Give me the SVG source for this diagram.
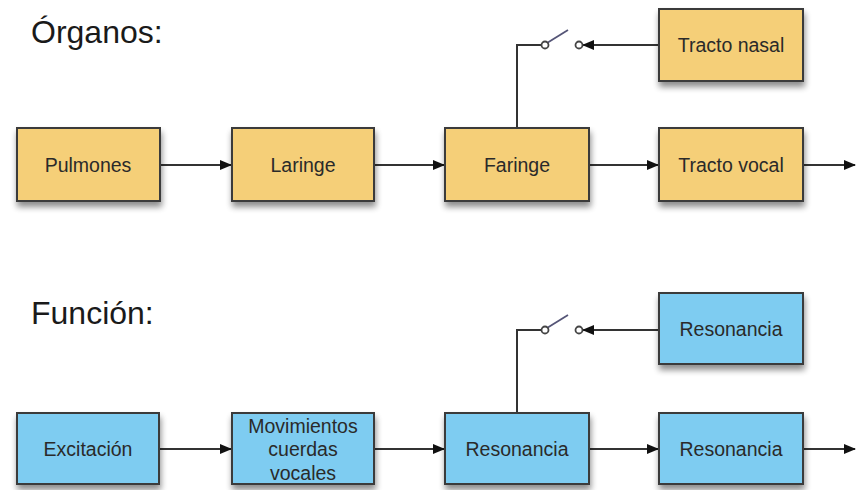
<svg xmlns="http://www.w3.org/2000/svg" width="856" height="490" viewBox="0 0 856 490">
<style>
.title{font-family:"Liberation Sans",Arial,sans-serif;font-size:32px;fill:#1a1a1a}
.lbl{font-family:"Liberation Sans",Arial,sans-serif;font-size:19.5px;fill:#2a2a2a;text-anchor:middle}
.y{fill:#F5CF78;stroke:#3a3a3a;stroke-width:2;filter:url(#sh)}
.b{fill:#7ECCF1;stroke:#3a3a3a;stroke-width:2;filter:url(#sh)}
.c{stroke:#333;stroke-width:2;fill:none}
.sw{fill:#fff;stroke:#444;stroke-width:1.8}
.lev{stroke:#555577;stroke-width:1.8}
</style>
<defs>
<filter id="sh" x="-20%" y="-20%" width="150%" height="160%">
<feGaussianBlur in="SourceAlpha" stdDeviation="3"/>
<feOffset dx="1" dy="5" result="o"/>
<feComponentTransfer><feFuncA type="linear" slope="0.45"/></feComponentTransfer>
<feMerge><feMergeNode/><feMergeNode in="SourceGraphic"/></feMerge>
</filter>
<marker id="ar" markerWidth="12" markerHeight="10" refX="11" refY="5" orient="auto" markerUnits="userSpaceOnUse">
<path d="M0,0 L12,5 L0,10 Z" fill="#111"/>
</marker>
</defs>
<rect width="856" height="490" fill="#fff"/>
<text class="title" x="31" y="43">Órganos:</text>
<text class="title" x="31" y="324">Función:</text>

<g id="connectors">
<line class="c" x1="160" y1="165" x2="231" y2="165" marker-end="url(#ar)"/>
<line class="c" x1="374" y1="165" x2="444" y2="165" marker-end="url(#ar)"/>
<line class="c" x1="589" y1="165" x2="658" y2="165" marker-end="url(#ar)"/>
<line class="c" x1="803" y1="165" x2="855" y2="165" marker-end="url(#ar)"/>
<polyline class="c" points="517,128 517,45 542,45"/>
<line class="c" x1="659" y1="45" x2="583" y2="45" marker-end="url(#ar)"/>
<line class="lev" x1="547" y1="43" x2="568" y2="30"/>
<circle class="sw" cx="545" cy="45" r="3.5"/>
<circle class="sw" cx="579" cy="45" r="3.5"/>

<line class="c" x1="160" y1="449" x2="231" y2="449" marker-end="url(#ar)"/>
<line class="c" x1="374" y1="449" x2="444" y2="449" marker-end="url(#ar)"/>
<line class="c" x1="589" y1="449" x2="658" y2="449" marker-end="url(#ar)"/>
<line class="c" x1="803" y1="449" x2="855" y2="449" marker-end="url(#ar)"/>
<polyline class="c" points="517,413 517,330 542,330"/>
<line class="c" x1="659" y1="330" x2="583" y2="330" marker-end="url(#ar)"/>
<line class="lev" x1="547" y1="328" x2="568" y2="315"/>
<circle class="sw" cx="545" cy="330" r="3.5"/>
<circle class="sw" cx="579" cy="330" r="3.5"/>
</g>

<g id="pulmones"><rect class="y" x="17" y="128" width="143" height="73"/><text class="lbl" x="88" y="172">Pulmones</text></g>
<g id="laringe"><rect class="y" x="232" y="128" width="142" height="73"/><text class="lbl" x="303" y="172">Laringe</text></g>
<g id="faringe"><rect class="y" x="445" y="128" width="144" height="73"/><text class="lbl" x="517" y="172">Faringe</text></g>
<g id="tracto-vocal"><rect class="y" x="659" y="128" width="144" height="73"/><text class="lbl" x="731" y="172">Tracto vocal</text></g>
<g id="tracto-nasal"><rect class="y" x="659" y="9" width="144" height="72"/><text class="lbl" x="731" y="52">Tracto nasal</text></g>

<g id="excitacion"><rect class="b" x="17" y="413" width="142" height="71"/><text class="lbl" x="88" y="456">Excitación</text></g>
<g id="movimientos"><rect class="b" x="232" y="413" width="142" height="71"/><text class="lbl" x="303" y="433">Movimientos</text><text class="lbl" x="303" y="456">cuerdas</text><text class="lbl" x="303" y="480">vocales</text></g>
<g id="resonancia-1"><rect class="b" x="445" y="413" width="144" height="71"/><text class="lbl" x="517" y="456">Resonancia</text></g>
<g id="resonancia-2"><rect class="b" x="659" y="413" width="144" height="71"/><text class="lbl" x="731" y="456">Resonancia</text></g>
<g id="resonancia-3"><rect class="b" x="659" y="293" width="144" height="71"/><text class="lbl" x="731" y="336">Resonancia</text></g>
</svg>
